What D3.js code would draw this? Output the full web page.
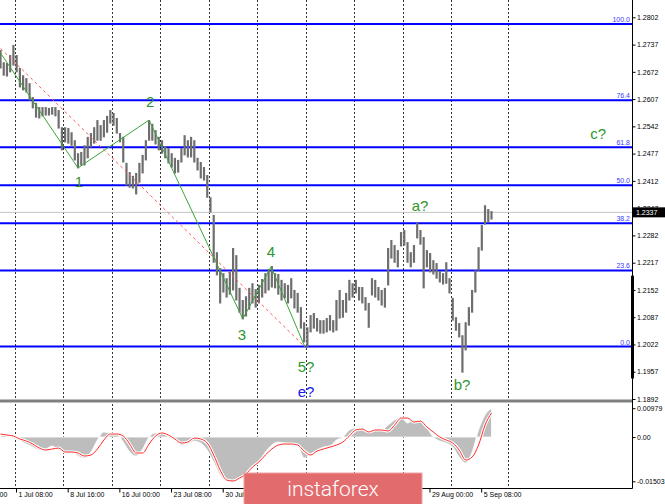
<!DOCTYPE html>
<html><head><meta charset="utf-8">
<script src="https://cdn.jsdelivr.net/npm/d3@7"></script>
<style>
body{margin:0;background:#fff;}
svg{display:block;font-family:"Liberation Sans",Arial,sans-serif;}
</style>
</head><body>
<svg id="c" width="665" height="504"></svg>
<script>
// ---------- DATA ----------
// price bars (one data bar every 2 H4 bars)
const barHigh = [
1.2724,1.2695,1.2693,1.2712,1.2736,1.2712,1.2681,1.2664,1.2657,1.2645,
1.2612,1.2598,1.2588,1.2588,1.2588,1.2586,1.2588,1.2588,1.2581,1.2540,
1.2540,1.2538,1.2528,1.2509,1.2478,1.2481,1.2497,1.2517,1.2526,1.2540,
1.2557,1.2545,1.2557,1.2567,1.2581,1.2574,1.2562,1.2526,1.2517,1.2455,
1.2433,1.2424,1.2431,1.2455,1.2474,1.2509,1.2557,1.2548,1.2533,1.2517,
1.2509,1.2495,1.2490,1.2478,1.2467,1.2462,1.2490,1.2521,1.2509,1.2517,
1.2509,1.2467,1.2457,1.2445,1.2426,1.2373,1.2331,1.2242,1.2204,1.2192,
1.2180,1.2195,1.2252,1.2235,1.2157,1.2128,1.2137,1.2157,1.2168,1.2154,
1.2164,1.2178,1.2192,1.2202,1.2209,1.2192,1.2190,1.2176,1.2168,1.2164,
1.2180,1.2152,1.2145,1.2111,1.2075,1.2063,1.2092,1.2097,1.2085,1.2080,
1.2080,1.2085,1.2092,1.2080,1.2128,1.2152,1.2128,1.2145,1.2176,1.2168,
1.2176,1.2159,1.2159,1.2135,1.2121,1.2180,1.2176,1.2159,1.2152,1.2157,
1.2252,1.2271,1.2259,1.2247,1.2290,1.2295,1.2266,1.2242,1.2259,1.2312,
1.2295,1.2278,1.2247,1.2240,1.2223,1.2216,1.2197,1.2192,1.2218,1.2180,
1.2133,1.2087,1.2073,1.2044,1.2075,1.2111,1.2152,1.2199,1.2254,1.2307,
1.2354,1.2345,1.2340];
const barLow = [
1.2681,1.2664,1.2662,1.2672,1.2688,1.2672,1.2636,1.2629,1.2624,1.2605,
1.2586,1.2564,1.2562,1.2567,1.2569,1.2569,1.2571,1.2567,1.2538,1.2486,
1.2505,1.2502,1.2497,1.2462,1.2443,1.2450,1.2450,1.2467,1.2493,1.2502,
1.2509,1.2509,1.2517,1.2528,1.2550,1.2545,1.2526,1.2505,1.2457,1.2402,
1.2397,1.2395,1.2381,1.2409,1.2431,1.2462,1.2509,1.2509,1.2500,1.2486,
1.2478,1.2467,1.2455,1.2445,1.2431,1.2433,1.2457,1.2474,1.2469,1.2469,
1.2457,1.2438,1.2419,1.2414,1.2373,1.2338,1.2218,1.2188,1.2121,1.2147,
1.2135,1.2142,1.2152,1.2128,1.2099,1.2083,1.2090,1.2106,1.2121,1.2111,
1.2121,1.2135,1.2145,1.2152,1.2159,1.2157,1.2142,1.2128,1.2133,1.2121,
1.2133,1.2109,1.2099,1.2061,1.2028,1.2016,1.2052,1.2061,1.2054,1.2049,
1.2049,1.2052,1.2056,1.2052,1.2056,1.2085,1.2087,1.2099,1.2128,1.2135,
1.2145,1.2128,1.2121,1.2104,1.2063,1.2140,1.2135,1.2128,1.2116,1.2111,
1.2164,1.2228,1.2218,1.2207,1.2257,1.2259,1.2218,1.2207,1.2218,1.2276,
1.2261,1.2157,1.2207,1.2195,1.2190,1.2180,1.2171,1.2166,1.2168,1.2145,
1.2080,1.2056,1.2040,1.1956,1.2009,1.2068,1.2099,1.2147,1.2199,1.2247,
1.2309,1.2314,1.2321];
const barEvery = 2;   // H4 bars per data bar
// oscillator (one value every 4 H4 bars)
const oscEvery = 4;
const oscHist = [
0.00068,0.00034,-0.00034,-0.00136,-0.00238,-0.00340,-0.00441,-0.00407,-0.00306,-0.00441,
-0.00543,-0.00509,-0.00645,-0.00713,-0.00509,-0.00102,0.00170,0.00136,0.00102,-0.00170,
-0.00509,-0.00645,-0.00407,0,0.00136,0.00136,0,-0.00136,-0.00272,-0.00238,
-0.00136,-0.00204,-0.00441,-0.00849,-0.01290,-0.01494,-0.01503,-0.01460,-0.01324,-0.01087,
-0.00849,-0.00509,-0.00272,-0.00170,-0.00204,-0.00238,-0.00306,-0.00713,-0.00577,-0.00441,
-0.00340,-0.00306,-0.00102,0,0.00238,0.00306,0.00238,0.00170,0.00238,0.00238,
0.00407,0.00577,0.00679,0.00475,0.00577,0.00543,0.00306,0,-0.00136,-0.00204,
-0.00340,-0.00679,-0.00883,-0.00509,0.00238,0.00747,0.00979];
const oscSignal = [
0.00102,0.00068,0.00034,-0.00068,-0.00136,-0.00238,-0.00374,-0.00441,-0.00407,-0.00374,
-0.00509,-0.00509,-0.00543,-0.00645,-0.00611,-0.00407,-0.00102,0.00102,0.00102,0.00034,
-0.00238,-0.00543,-0.00543,-0.00238,0.00034,0.00136,0.00068,-0.00068,-0.00204,-0.00170,
-0.00034,-0.00068,-0.00204,-0.00611,-0.01121,-0.01460,-0.01494,-0.01392,-0.01256,-0.01019,
-0.00849,-0.00611,-0.00407,-0.00272,-0.00238,-0.00238,-0.00272,-0.00475,-0.00611,-0.00475,
-0.00407,-0.00340,-0.00272,-0.00170,0.00034,0.00238,0.00272,0.00170,0.00238,0.00238,
0.00204,0.00407,0.00645,0.00645,0.00509,0.00543,0.00340,0.00170,0,-0.00102,
-0.00204,-0.00441,-0.00781,-0.00679,-0.00272,0.00407,0.00815];

// time labels visible in the picture (the ones under the watermark are not shown)
const timeLabels = ["24 Jun 00:00","1 Jul 08:00","8 Jul 16:00","16 Jul 00:00","23 Jul 08:00",
  "30 Jul 16:00","29 Aug 00:00","5 Sep 08:00"];
const timeLabelBars = [-22.4,9.6,41.6,73.6,105.6,137.6,265.6,297.6];
const gridBars = [9,39,69,99,129,159,189,219,249,279,314];
const priceTicks = [1.2802,1.2737,1.2672,1.2607,1.2542,1.2477,1.2412,1.2347,1.2282,1.2217,1.2152,1.2087,1.2022,1.1957,1.1892];
const oscTicks = [0.00979,0,-0.01503];
const oscTickText = ["0.00979","0.00","-0.01503"];
const fibLow = 1.2017, fibHigh = 1.2786;
const fibLevels = [0,23.6,38.2,50,61.8,76.4,100];
const fibText = ["0.0","23.6","38.2","50.0","61.8","76.4","100.0"];
const lastPrice = 1.2337;
const waveLine = [{bar:0,p:1.2717},{bar:48,p:1.2443},{bar:92,p:1.2557},{bar:150,p:1.2083},{bar:167.5,p:1.2207},{bar:188.5,p:1.2016}];
const trendLine = [{bar:0,p:1.2728},{bar:188.5,p:1.2016}];
const waveLabels = [
  {t:"1",bar:48.6,p:1.2409,c:"g"},{t:"2",bar:92.6,p:1.2600,c:"g"},{t:"3",bar:149.5,p:1.2044,c:"g"},
  {t:"4",bar:167.5,p:1.2242,c:"g"},{t:"5?",bar:189.2,p:1.1968,c:"g"},{t:"e?",bar:189.2,p:1.1909,c:"b"},
  {t:"a?",bar:259.8,p:1.2352,c:"g"},{t:"b?",bar:285.8,p:1.1925,c:"g"},{t:"c?",bar:370,p:1.2524,c:"g"}];

// ---------- LAYOUT ----------
const svg = d3.select("#c");
const W = 632, priceBottom = 399, sepY = 401, oscTop = 403, axisY = 488;
const x = d3.scaleLinear().domain([0,304]).range([0.5,491.5]);
const y = d3.scaleLinear().domain([1.1892,1.2802]).range([399,17.3]);
const yo = d3.scaleLinear().domain([-0.01503,0.00979]).range([481.3,408.2]);
const FS = 7;

svg.append("rect").attr("width",665).attr("height",504).attr("fill","#fff");
const defs = svg.append("defs");
defs.append("clipPath").attr("id","cp").append("rect").attr("x",0).attr("y",0).attr("width",W).attr("height",priceBottom);
defs.append("clipPath").attr("id","co").append("rect").attr("x",0).attr("y",oscTop).attr("width",W).attr("height",axisY-oscTop);

// grid
svg.append("g").selectAll("line").data(gridBars).join("line")
  .attr("x1",d=>Math.round(x(d))+0.5).attr("x2",d=>Math.round(x(d))+0.5)
  .attr("y1",0).attr("y2",axisY)
  .attr("stroke","#333").attr("stroke-width",1).attr("stroke-dasharray","2,2");

// price panel
const gp = svg.append("g").attr("clip-path","url(#cp)");
gp.append("line").attr("x1",0).attr("x2",W).attr("y1",y(lastPrice)).attr("y2",y(lastPrice))
  .attr("stroke","#c4c4c4").attr("stroke-width",1);
const fibPrice = l => fibLow + (fibHigh-fibLow)*l/100;
gp.append("g").selectAll("line").data(fibLevels).join("line")
  .attr("x1",0).attr("x2",W).attr("y1",d=>y(fibPrice(d))).attr("y2",d=>y(fibPrice(d)))
  .attr("stroke","#0000ff").attr("stroke-width",2);
gp.append("g").selectAll("line").data(barHigh).join("line")
  .attr("x1",(d,i)=>x(i*barEvery)).attr("x2",(d,i)=>x(i*barEvery))
  .attr("y1",d=>y(d)).attr("y2",(d,i)=>y(barLow[i])+0.5)
  .attr("stroke","#6e6e6e").attr("stroke-width",2.2);
const ln = d3.line().x(d=>x(d.bar)).y(d=>y(d.p));
gp.append("path").attr("d",ln(trendLine)).attr("fill","none")
  .attr("stroke","#ff5a5a").attr("stroke-width",1).attr("stroke-dasharray","3,3");
gp.append("path").attr("d",ln(waveLine)).attr("fill","none")
  .attr("stroke","#3aa53a").attr("stroke-width",1);
svg.append("g").selectAll("text").data(fibLevels).join("text")
  .attr("x",630).attr("y",d=>y(fibPrice(d))-2)
  .attr("text-anchor","end").attr("font-size",FS).attr("fill","#3a3aff")
  .text((d,i)=>fibText[i]);
svg.append("g").selectAll("text").data(waveLabels).join("text")
  .attr("x",d=>x(d.bar)).attr("y",d=>y(d.p)).attr("dy","0.35em")
  .attr("text-anchor","middle").attr("font-size",15)
  .attr("fill",d=>d.c==="g"?"#2f952f":"#1616ee").text(d=>d.t);

// separator
svg.append("line").attr("x1",0).attr("x2",W).attr("y1",sepY).attr("y2",sepY)
  .attr("stroke","#808080").attr("stroke-width",3);

// oscillator
const go = svg.append("g").attr("clip-path","url(#co)");
const xo = (d,i)=>x(i*oscEvery);
go.append("path").datum(oscHist)
  .attr("d",d3.area().x(xo).y0(yo(0)).y1(d=>yo(d)).curve(d3.curveMonotoneX))
  .attr("fill","#bdbdbd").attr("stroke","#fff").attr("stroke-width",0.8);
const sl = d3.line().x(xo).y(d=>yo(d)).curve(d3.curveMonotoneX);
go.append("path").datum(oscSignal).attr("d",sl).attr("fill","none").attr("stroke","#fff").attr("stroke-width",3);
go.append("path").datum(oscSignal).attr("d",sl).attr("fill","none").attr("stroke","#ff2a2a").attr("stroke-width",1);

// axes lines
svg.append("line").attr("x1",W+0.5).attr("x2",W+0.5).attr("y1",0).attr("y2",axisY+0.5).attr("stroke","#000");
svg.append("line").attr("x1",0).attr("x2",W+0.5).attr("y1",axisY+0.5).attr("y2",axisY+0.5).attr("stroke","#000");
svg.append("line").attr("x1",W+0.5).attr("x2",W+0.5).attr("y1",y(1.2186)).attr("y2",y(1.1941)).attr("stroke","#000").attr("stroke-width",3);

// price axis
const pa = svg.append("g").attr("transform",`translate(${W+0.5},0)`)
  .call(d3.axisRight(y).tickValues(priceTicks).tickFormat(d3.format(".4f")).tickSize(3).tickPadding(1.5));
pa.select(".domain").remove();
pa.selectAll("text").attr("font-size",FS).attr("font-family","Liberation Sans, Arial").attr("fill","#000");
const oa = svg.append("g").attr("transform",`translate(${W+0.5},0)`)
  .call(d3.axisRight(yo).tickValues(oscTicks).tickFormat((d,i)=>oscTickText[i]).tickSize(3).tickPadding(1.5));
oa.select(".domain").remove();
oa.selectAll("text").attr("font-size",FS).attr("font-family","Liberation Sans, Arial").attr("fill","#000");

// last price box
svg.append("rect").attr("x",W+1).attr("y",y(lastPrice)-5).attr("width",32).attr("height",10).attr("fill","#000");
svg.append("text").attr("x",W+4).attr("y",y(lastPrice)).attr("dy","0.35em")
  .attr("font-size",FS).attr("fill","#fff").text(d3.format(".4f")(lastPrice));

// time axis
const ta = svg.append("g").attr("transform",`translate(0,${axisY+0.5})`)
  .call(d3.axisBottom(x).tickValues(timeLabelBars).tickFormat((d,i)=>timeLabels[i]).tickSize(4).tickPadding(0));
ta.select(".domain").remove();
ta.selectAll("text").attr("text-anchor","start").attr("dx",2).attr("font-size",FS)
  .attr("font-family","Liberation Sans, Arial").attr("fill","#000");

// watermark
svg.append("rect").attr("x",244).attr("y",473).attr("width",178).attr("height",34)
  .attr("fill","#e26b6d").attr("stroke","#f0a4a4").attr("stroke-width",1);
svg.append("text").attr("x",333).attr("y",496).attr("text-anchor","middle")
  .attr("font-family","Roboto, 'Open Sans', sans-serif").attr("font-weight",300)
  .attr("font-size",21).attr("fill","#fff").text("instaforex");
</script>
</body></html>
